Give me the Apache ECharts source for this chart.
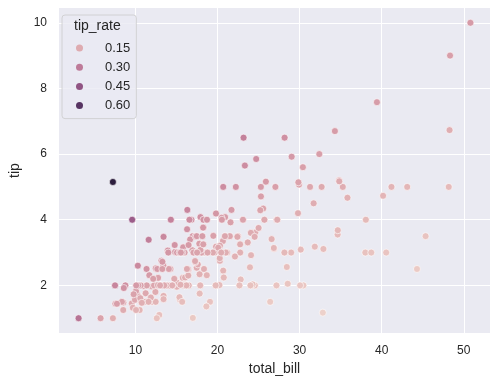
<!DOCTYPE html>
<html>
<head>
<meta charset="utf-8">
<script src="https://cdn.jsdelivr.net/npm/echarts@6/dist/echarts.min.js"></script>
<style>html,body{margin:0;padding:0;background:#fff}#c{width:499px;height:385px}</style>
</head>
<body>
<div id="c"></div>
<script>
var totalBill = [16.99,10.34,21.01,23.68,24.59,25.29,8.77,26.88,15.04,14.78,10.27,35.26,15.42,18.43,14.83,21.58,10.33,16.29,16.97,20.65,17.92,20.29,15.77,39.42,19.82,17.81,13.37,12.69,21.7,19.65,9.55,18.35,15.06,20.69,17.78,24.06,16.31,16.93,18.69,31.27,16.04,17.46,13.94,9.68,30.4,18.29,22.23,32.4,28.55,18.04,12.54,10.29,34.81,9.94,25.56,19.49,38.01,26.41,11.24,48.27,20.29,13.81,11.02,18.29,17.59,20.08,16.45,3.07,20.23,15.01,12.02,17.07,26.86,25.28,14.73,10.51,17.92,27.2,22.76,17.29,19.44,16.66,10.07,32.68,15.98,34.83,13.03,18.28,24.71,21.16,28.97,22.49,5.75,16.32,22.75,40.17,27.28,12.03,21.01,12.46,11.35,15.38,44.3,22.42,20.92,15.36,20.49,25.21,18.24,14.31,14.0,7.25,38.07,23.95,25.71,17.31,29.93,10.65,12.43,24.08,11.69,13.42,14.26,15.95,12.48,29.8,8.52,14.52,11.38,22.82,19.08,20.27,11.17,12.26,18.26,8.51,10.33,14.15,16.0,13.16,17.47,34.3,41.19,27.05,16.43,8.35,18.64,11.87,9.78,7.51,14.07,13.13,17.26,24.55,19.77,29.85,48.17,25.0,13.39,16.49,21.5,12.66,16.21,13.81,17.51,24.52,20.76,31.71,10.59,10.63,50.81,15.81,7.25,31.85,16.82,32.9,17.89,14.48,9.6,34.63,34.65,23.33,45.35,23.17,40.55,20.69,20.9,30.46,18.15,23.1,15.69,19.81,28.44,15.48,16.58,7.56,10.34,43.11,13.0,13.51,18.71,12.74,13.0,16.4,20.53,16.47,26.59,38.73,24.27,12.76,30.06,25.89,48.33,13.27,28.17,12.9,28.15,11.59,7.74,30.14,12.16,13.42,8.58,15.98,13.42,16.27,10.09,20.45,13.28,22.12,24.01,15.69,11.61,10.77,15.53,10.07,12.6,32.83,35.83,29.03,27.18,22.67,17.82,18.78];
var tip = [1.01,1.66,3.5,3.31,3.61,4.71,2.0,3.12,1.96,3.23,1.71,5.0,1.57,3.0,3.02,3.92,1.67,3.71,3.5,3.35,4.08,2.75,2.23,7.58,3.18,2.34,2.0,2.0,4.3,3.0,1.45,2.5,3.0,2.45,3.27,3.6,2.0,3.07,2.31,5.0,2.24,2.54,3.06,1.32,5.6,3.0,5.0,6.0,2.05,3.0,2.5,2.6,5.2,1.56,4.34,3.51,3.0,1.5,1.76,6.73,3.21,2.0,1.98,3.76,2.64,3.15,2.47,1.0,2.01,2.09,1.97,3.0,3.14,5.0,2.2,1.25,3.08,4.0,3.0,2.71,3.0,3.4,1.83,5.0,2.03,5.17,2.0,4.0,5.85,3.0,3.0,3.5,1.0,4.3,3.25,4.73,4.0,1.5,3.0,1.5,2.5,3.0,2.5,3.48,4.08,1.64,4.06,4.29,3.76,4.0,3.0,1.0,4.0,2.55,4.0,3.5,5.07,1.5,1.8,2.92,2.31,1.68,2.5,2.0,2.52,4.2,1.48,2.0,2.0,2.18,1.5,2.83,1.5,2.0,3.25,1.25,2.0,2.0,2.0,2.75,3.5,6.7,5.0,5.0,2.3,1.5,1.36,1.63,1.73,2.0,2.5,2.0,2.74,2.0,2.0,5.14,5.0,3.75,2.61,2.0,3.5,2.5,2.0,2.0,3.0,3.48,2.24,4.5,1.61,2.0,10.0,3.16,5.15,3.18,4.0,3.11,2.0,2.0,4.0,3.55,3.68,5.65,3.5,6.5,3.0,5.0,3.5,2.0,3.5,4.0,1.5,4.19,2.56,2.02,4.0,1.44,2.0,5.0,2.0,2.0,4.0,2.01,2.0,2.5,4.0,3.23,3.41,3.0,2.03,2.23,2.0,5.16,9.0,2.5,6.5,1.1,3.0,1.5,1.44,3.09,2.2,3.48,1.92,3.0,1.58,2.5,2.0,3.0,2.72,2.88,2.0,3.0,3.39,1.47,3.0,1.25,1.0,1.17,4.67,5.92,2.0,2.0,1.75,3.0];
var legendTicks = [0.15, 0.30, 0.45, 0.60];
var xTicks = [10, 20, 30, 40, 50];
var yTicks = [2, 4, 6, 8, 10];

var rates = totalBill.map(function (b, i) { return tip[i] / b; });
var rMin = Math.min.apply(null, rates), rMax = Math.max.apply(null, rates);

function cubehelix(t) {
  var x = 0.85 + (0.15 - 0.85) * t;
  var a = 0.8 * x * (1 - x) / 2;
  var phi = 2 * Math.PI * (0.4 * x);
  var c = Math.cos(phi), s = Math.sin(phi);
  var r = x + a * (-0.14861 * c + 1.78277 * s);
  var g = x + a * (-0.29227 * c - 0.90649 * s);
  var b = x + a * (1.97294 * c);
  function h(v) { v = Math.max(0, Math.min(1, v)); return Math.round(v * 255); }
  return 'rgb(' + h(r) + ',' + h(g) + ',' + h(b) + ')';
}
function rateColor(r) { return cubehelix((r - rMin) / (rMax - rMin)); }

var points = totalBill.map(function (b, i) { return [b, tip[i], rates[i]]; });

var font = '"Liberation Sans", Arial, sans-serif';
var xMin = 0.683, xMax = 53.197, yMin = 0.55, yMax = 10.45;

var series = [{
  type: 'scatter',
  data: points,
  symbolSize: 7,
  silent: true,
  itemStyle: {
    color: function (p) { return rateColor(p.data[2]); },
    borderColor: '#ffffff',
    borderWidth: 0.6,
    opacity: 1
  }
}];
legendTicks.forEach(function (v) {
  series.push({
    type: 'scatter', name: v.toFixed(2), data: [],
    itemStyle: { color: rateColor(v), opacity: 1 }
  });
});

var chart = echarts.init(document.getElementById('c'), null, { renderer: 'canvas' });
chart.setOption({
  animation: false,
  backgroundColor: '#ffffff',
  grid: { left: 55, right: 9, top: 8, bottom: 52, show: true, backgroundColor: '#EAEAF2', borderWidth: 0 },
  xAxis: {
    type: 'value', min: xMin, max: xMax,
    name: 'total_bill', nameLocation: 'middle', nameGap: 28,
    nameTextStyle: { color: '#262626', fontSize: 14, fontFamily: font },
    axisLine: { show: false },
    axisTick: { show: false, customValues: xTicks },
    axisLabel: { color: '#262626', fontSize: 12, fontFamily: font, margin: 12, customValues: xTicks },
    splitLine: { show: true, lineStyle: { color: '#ffffff', width: 1 } }
  },
  yAxis: {
    type: 'value', min: yMin, max: yMax,
    name: 'tip', nameLocation: 'middle', nameGap: 37,
    nameTextStyle: { color: '#262626', fontSize: 14, fontFamily: font },
    axisLine: { show: false },
    axisTick: { show: false, customValues: yTicks },
    axisLabel: { color: '#262626', fontSize: 12, fontFamily: font, margin: 12, customValues: yTicks },
    splitLine: { show: true, lineStyle: { color: '#ffffff', width: 1 } }
  },
  legend: {
    show: true, orient: 'vertical', left: 62, top: 15,
    data: legendTicks.map(function (v) { return v.toFixed(2); }),
    icon: 'circle', itemWidth: 7, itemHeight: 7, itemGap: 5.2,
    padding: [26, 6, 6, 14],
    backgroundColor: 'rgba(234,234,242,0.8)',
    borderColor: '#cccccc', borderWidth: 0.8, borderRadius: 3,
    selectedMode: false,
    textStyle: { color: '#262626', fontSize: 13, fontFamily: font, lineHeight: 14, padding: [0, 0, 0, 17] }
  },
  graphic: [{
    type: 'text', left: 74, top: 19, z: 100,
    style: { text: 'tip_rate', fill: '#262626', fontSize: 14, fontFamily: font }
  }],
  series: series
});
</script>
</body>
</html>
